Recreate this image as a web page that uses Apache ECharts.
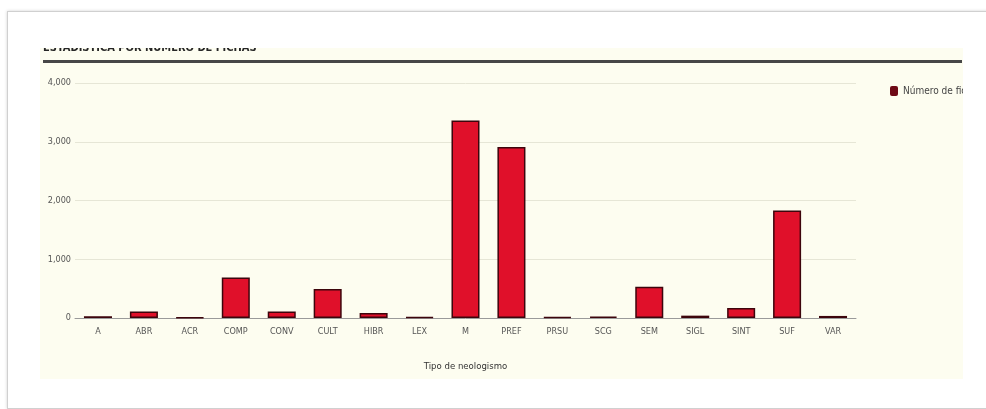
<!DOCTYPE html>
<html>
<head>
<meta charset="utf-8">
<script src="https://cdn.jsdelivr.net/npm/echarts@6/dist/echarts.min.js"></script>
<style>
  html, body { margin: 0; padding: 0; background: #ffffff; width: 986px; height: 409px; overflow: hidden; }
  #card { position: absolute; left: 7px; top: 11px; width: 1000px; height: 396px;
          border: 1px solid #d0d0d0; box-shadow: 0 0 3px rgba(0,0,0,0.18); background: #fff; }
  #chart { position: absolute; left: 40px; top: 48px; width: 923px; height: 331px; background: #fdfdf0; }
</style>
</head>
<body>
<div id="card"></div>
<div id="chart"></div>
<script>
const titleText = 'ESTADISTICA POR NUMERO DE FICHAS';
const seriesName = 'Número de fichas';
const axisName = 'Tipo de neologismo';
const categories = ['A','ABR','ACR','COMP','CONV','CULT','HIBR','LEX','M','PREF','PRSU','SCG','SEM','SIGL','SINT','SUF','VAR'];
const values = [30, 110, 10, 690, 110, 495, 85, 15, 3360, 2910, 15, 25, 530, 40, 170, 1830, 35];
const yTicks = [0, 1000, 2000, 3000, 4000];

const FONT = "'DejaVu Sans Condensed', 'Liberation Sans Narrow', sans-serif";
const chart = echarts.init(document.getElementById('chart'));
chart.setOption({
  animation: false,
  textStyle: { fontFamily: FONT },
  title: {
    text: titleText, left: 3, top: -5, padding: 0,
    textStyle: { fontFamily: FONT, fontSize: 11, fontWeight: 'bold', color: '#262626' }
  },
  graphic: [{
    type: 'rect', left: 3, top: 12,
    shape: { width: 919, height: 3 },
    style: { fill: '#474747' }, silent: true
  }],
  legend: {
    left: 845, top: 33, itemWidth: 8, itemHeight: 10, itemGap: 6,
    icon: 'roundRect',
    textStyle: { fontFamily: FONT, fontSize: 10, color: '#444' },
    data: [{ name: seriesName, itemStyle: { color: '#6e0a16', borderWidth: 0 } }]
  },
  grid: { left: 35, right: 107, top: 35, bottom: 61, containLabel: false },
  xAxis: {
    type: 'category', data: categories,
    name: axisName, nameLocation: 'middle', nameGap: 44,
    nameTextStyle: { fontFamily: FONT, fontSize: 9.5, color: '#333' },
    axisLine: { show: true, lineStyle: { color: '#9a9a9a', width: 1 } },
    axisTick: { show: false },
    axisLabel: { fontFamily: FONT, fontSize: 9, color: '#555', margin: 9, interval: 0 }
  },
  yAxis: {
    type: 'value', min: 0, max: yTicks[yTicks.length - 1], interval: yTicks[1] - yTicks[0],
    axisLine: { show: false }, axisTick: { show: false },
    axisLabel: { fontFamily: FONT, fontSize: 9, color: '#555', margin: 4 },
    splitLine: { lineStyle: { color: '#e6e6d6', width: 1 } }
  },
  series: [{
    name: seriesName, type: 'bar', data: values, barWidth: '61%',
    itemStyle: { color: '#e0102a', borderColor: '#3d050c', borderWidth: 1.5 }
  }]
});
</script>
</body>
</html>
